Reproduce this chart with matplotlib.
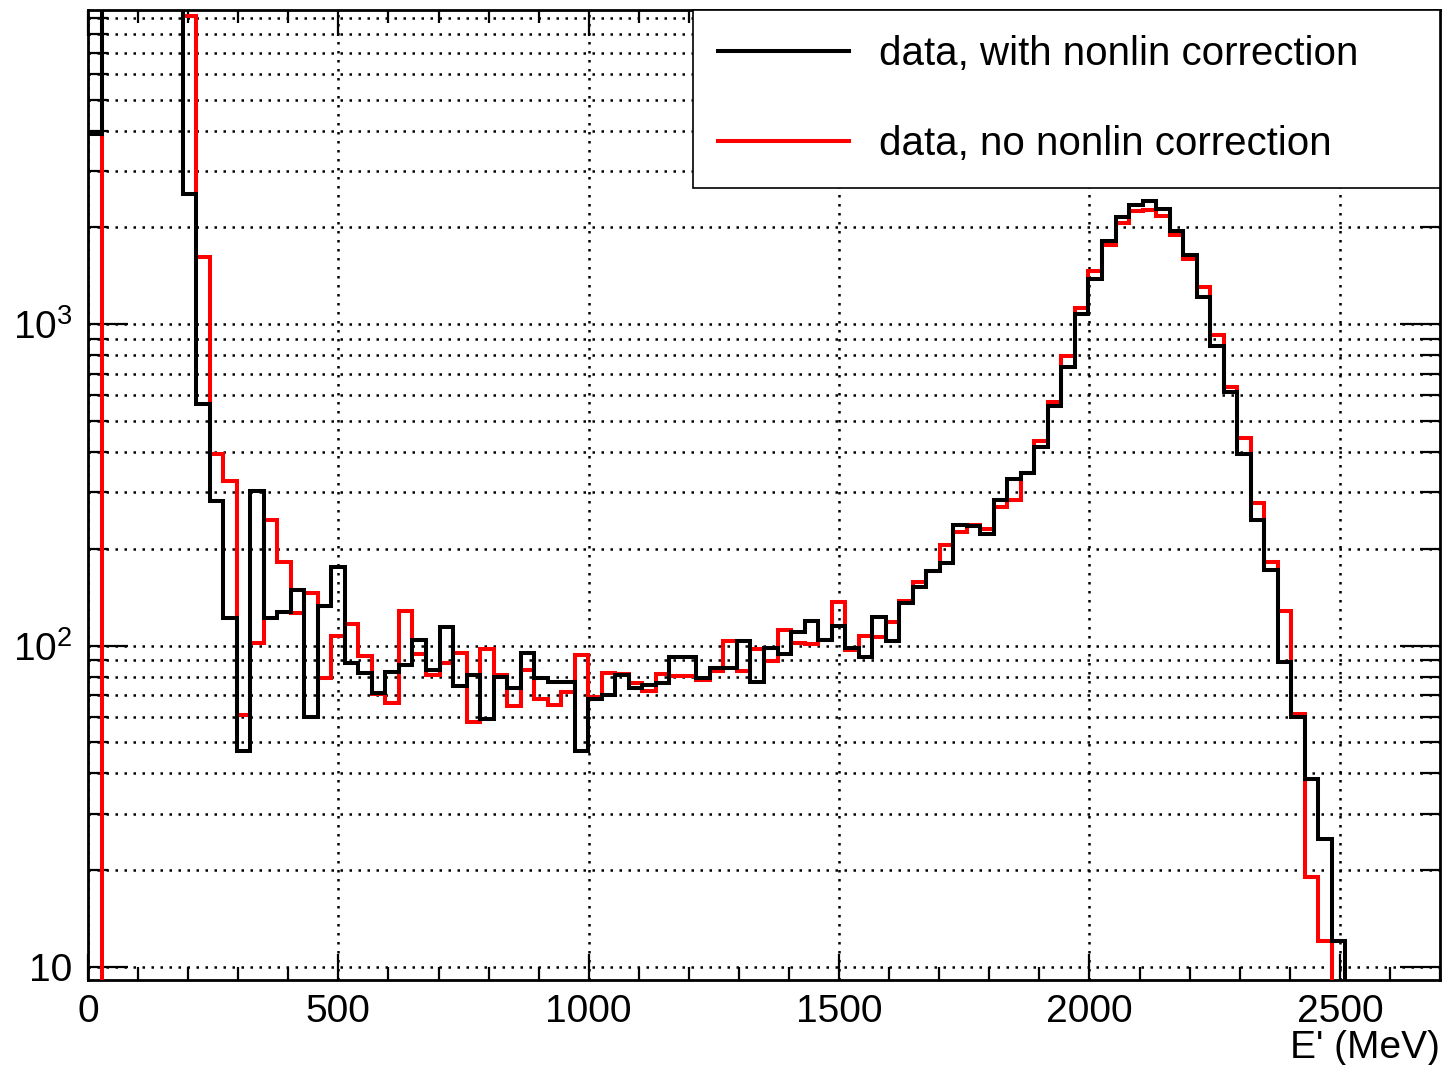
import numpy as np
import matplotlib
matplotlib.use("Agg")
from matplotlib import pyplot as plt
from matplotlib.lines import Line2D
from matplotlib.ticker import FixedLocator, MultipleLocator, FuncFormatter

plt.rcParams['font.family'] = ['Liberation Sans', 'DejaVu Sans']
plt.rcParams['mathtext.fontset'] = 'custom'
plt.rcParams['mathtext.rm'] = 'Liberation Sans'

# 100 bins of 27 MeV between 0 and 2700 MeV
bin_edges = np.linspace(0, 2700, 101)

counts_corr = [
    3900, 16000, 21000, 23000, 20000, 16000, 12000, 2540, 563, 282,
    122, 47, 303, 122, 127, 149, 60, 133, 176, 88.5,
    82, 71, 83, 87, 104, 84, 114, 75, 81, 59,
    80, 74, 95, 79, 77, 77, 47, 68, 70, 81,
    74, 75.6, 76.5, 92, 92, 79, 85, 85, 103, 77,
    98, 94, 110, 119, 104, 115, 98.5, 92, 123, 103,
    136, 152, 171, 180, 238, 235, 223, 284, 329, 344,
    416, 558, 738, 1074, 1381, 1810, 2149, 2353, 2410, 2281,
    1945, 1644, 1211, 856, 617, 394, 246, 172, 89, 60,
    38.5, 25, 12, 0, 0, 0, 0, 0, 0, 0,
]

counts_nocorr = [
    0, 14000, 20000, 23000, 21000, 17000, 13000, 9100, 1614, 394,
    324, 60.6, 102, 245, 182, 126, 146, 79, 107, 117,
    92.6, 70.5, 66, 128, 94, 81, 88, 95, 57.7, 97.6,
    81, 64.7, 84, 68, 65.5, 71.6, 93.7, 69, 82, 81.6,
    76.5, 72, 81.6, 80.6, 80.6, 78, 83.6, 103, 83.6, 97.6,
    89.4, 112, 102, 101, 104, 137, 97, 107, 106, 118,
    138, 158, 171, 205, 226, 237, 231, 269, 283, 345,
    433, 573, 797, 1119, 1459, 1766, 2059, 2244, 2270, 2175,
    1893, 1594, 1301, 926, 639, 442, 278, 182, 128, 61,
    19, 12, 0, 0, 0, 0, 0, 0, 0, 0,
]

labels = ["data, with nonlin correction", "data, no nonlin correction"]
colors = ["black", "#ff0000"]

fig = plt.figure(figsize=(14.48, 10.65), dpi=100)
ax = fig.add_axes([88 / 1448, 1 - 980 / 1065, (1440 - 88) / 1448, (980 - 10) / 1065])

ax.set_yscale('log', nonpositive='clip')
ax.set_xlim(0, 2700)
ax.set_ylim(9.1, 9500)

dotted = (0, (1, 2.6))
ax.grid(True, axis='x', which='major', linestyle=dotted, color='black', lw=1.8)
ax.grid(True, axis='y', which='both', linestyle=dotted, color='black', lw=1.8)
ax.set_axisbelow(True)

# histogram outlines, uncorrected first so the corrected one sits on top
ax.stairs(counts_nocorr, bin_edges, baseline=None, color=colors[1], lw=2.9, zorder=3)
ax.stairs(counts_corr, bin_edges, baseline=None, color=colors[0], lw=2.9, zorder=4)

ax.xaxis.set_major_locator(MultipleLocator(500))
ax.xaxis.set_minor_locator(MultipleLocator(100))
ax.yaxis.set_major_locator(FixedLocator([10, 100, 1000]))
minor_y = [m * 10 ** d for d in range(0, 4) for m in range(2, 10)]
ax.yaxis.set_minor_locator(FixedLocator(minor_y))


def log_label(v, pos):
    p = int(round(np.log10(v)))
    if p == 1:
        return "10"
    return r"$\mathregular{10^{%d}}$" % p


ax.yaxis.set_major_formatter(FuncFormatter(log_label))
ax.yaxis.set_minor_formatter(FuncFormatter(lambda v, pos: ""))

ax.tick_params(axis='both', which='both', direction='in', top=True, right=True,
               width=1.6, labelsize=28, colors='black')
ax.tick_params(axis='x', which='major', length=19, pad=10)
ax.tick_params(axis='x', which='minor', length=9.5)
ax.tick_params(axis='y', which='major', length=29, pad=11)
ax.tick_params(axis='y', which='minor', length=14.5)

for s in ax.spines.values():
    s.set_linewidth(2.0)

ax.set_xlabel("E' (MeV)", fontsize=28, loc='right', labelpad=0)

handles = [Line2D([], [], color=c, lw=2.9) for c in colors]
x0 = (693 - 88) / 1352
leg = ax.legend(handles, labels, loc='upper left', bbox_to_anchor=(x0, 0., 1 - x0, 1.),
                mode='expand', borderaxespad=0, fontsize=29, handlelength=3.25,
                handletextpad=0.75, borderpad=0.62, labelspacing=1.3,
                frameon=True, fancybox=False, framealpha=1, edgecolor='black')
leg.get_frame().set_linewidth(1.2)
leg.set_zorder(6)

fig.savefig("out.png", dpi=100)
